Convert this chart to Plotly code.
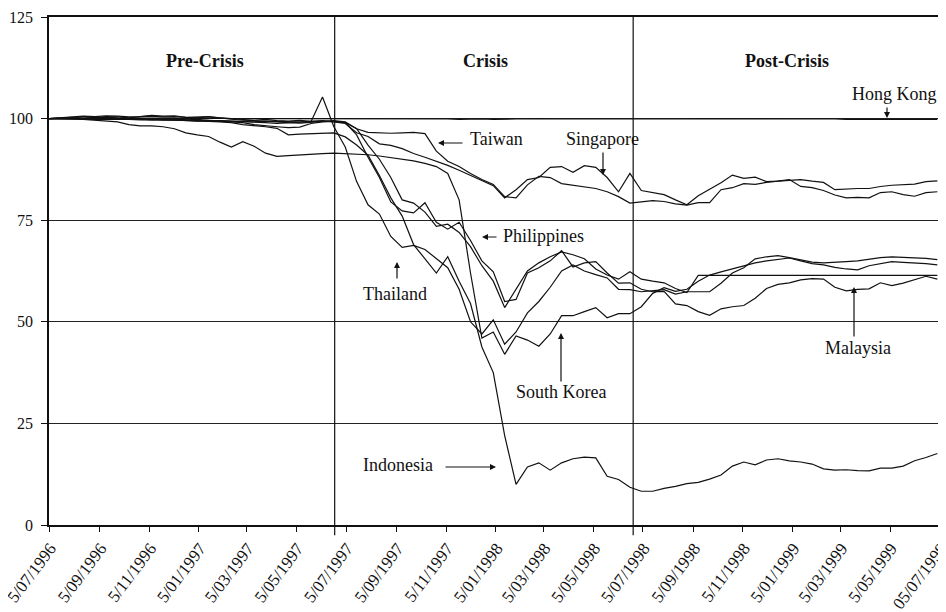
import pandas as pd
import plotly.graph_objects as go

# Fortnightly observation dates (5 July 1996 onward)
dates = pd.date_range("1996-07-05", periods=79, freq="14D")

hong_kong = [100.0, 100.1, 100.2, 100.1, 100.2, 100.3, 100.2, 100.2, 100.1, 100.1, 100.2, 100.1, 100.0, 100.1, 100.0, 100.1, 100.0, 99.9, 100.0, 100.0, 99.9, 100.0, 100.0, 99.9, 99.9,
             99.9, 100.0, 99.9, 100.0, 100.0, 99.9, 99.9, 100.0, 100.0, 99.9, 99.9, 99.8, 99.9, 99.9, 99.8, 99.9, 99.9, 99.9, 100.0, 99.9, 99.9, 99.9, 99.9, 99.9, 99.9, 99.9,
             99.9, 99.9, 99.8, 99.8, 99.9, 99.9, 100.0, 100.0, 100.0, 99.9, 99.9, 100.0, 100.0, 99.9, 99.9, 99.9, 99.9, 99.9, 99.9, 99.8, 99.8, 99.9, 99.9, 99.9, 99.8, 99.8, 99.8, 99.8]

singapore = [100.0, 100.2, 100.4, 100.6, 100.5, 100.7, 100.6, 100.4, 100.5, 100.8, 100.6, 100.7, 100.3, 100.4, 100.5, 100.2, 100.0, 99.8, 99.6, 99.8, 99.5, 99.4, 99.6, 99.3, 99.5,
             99.2, 98.8, 96.5, 95.6, 93.8, 93.4, 92.6, 91.4, 90.5, 89.5, 88.5, 87.3, 86.0, 84.8, 83.5, 80.5, 82.5, 85.0, 85.5, 88.0, 88.2, 86.8, 88.4, 88.0, 85.5, 82.0,
             86.5, 82.3, 81.8, 81.3, 80.0, 78.8, 81.0, 82.5, 84.2, 86.1, 85.3, 85.6, 84.5, 84.6, 85.0, 83.3, 83.0, 82.3, 81.2, 80.5, 80.6, 80.5, 81.8, 82.0, 81.3, 80.9, 81.8, 82.0]

taiwan = [100.0, 100.0, 99.9, 99.9, 99.8, 99.8, 99.9, 99.8, 99.7, 99.8, 99.7, 99.6, 99.5, 99.5, 99.4, 99.5, 99.4, 99.3, 99.2, 99.4, 99.3, 99.3, 99.2, 99.3, 99.3,
          99.3, 99.0, 97.5, 96.6, 96.5, 96.4, 96.5, 96.6, 96.3, 92.0, 89.5, 88.2, 86.5, 85.0, 83.8, 80.8, 80.5, 83.7, 85.8, 85.5, 84.0, 83.6, 83.3, 82.8, 82.0, 80.8,
          79.2, 79.5, 79.8, 79.6, 79.0, 78.7, 79.3, 79.3, 82.5, 83.0, 84.0, 83.8, 84.3, 84.6, 84.8, 85.0, 84.6, 84.3, 82.5, 82.7, 82.8, 82.8, 83.3, 83.6, 83.7, 83.9, 84.5, 84.7]

south_korea = [100.0, 100.0, 99.9, 99.8, 99.6, 99.4, 99.2, 98.5, 98.2, 98.2, 98.0, 97.5, 96.5, 96.0, 95.6, 94.2, 93.0, 94.3, 93.2, 91.5, 90.7, 90.9, 91.1, 91.2, 91.4, 91.5,
               91.4, 91.3, 91.1, 90.8, 90.4, 90.0, 89.6, 89.0, 88.2, 86.5, 80.0, 62.0, 46.0, 47.5, 42.0, 46.5, 45.5, 44.0, 47.0, 51.5, 51.5, 52.5, 53.5, 51.0, 52.0,
               52.0, 53.7, 57.0, 58.4, 57.5, 58.0, 60.0, 61.5, 62.3, 63.0, 63.8, 64.5, 65.0, 65.4, 65.7, 65.0, 64.3, 64.0, 63.4, 63.0, 62.8, 63.8, 64.3, 64.8, 64.6, 64.5, 64.3, 64.0]

thailand = [100.0, 100.0, 99.9, 100.0, 100.0, 99.9, 99.8, 99.9, 99.8, 99.7, 99.8, 99.9, 99.7, 99.8, 99.6, 99.5, 99.4, 99.3, 99.2, 99.0, 98.8, 98.9, 99.1, 99.3, 105.3, 98.0,
            93.0, 84.5, 78.8, 76.5, 71.0, 68.3, 68.8, 67.8, 65.5, 63.3, 58.0, 50.0, 47.0, 50.5, 44.5, 47.5, 52.2, 55.0, 58.5, 62.5, 64.0, 62.5, 61.6, 60.8, 58.0,
            57.9, 57.4, 57.6, 57.9, 56.8, 57.4, 57.4, 57.4, 59.5, 62.0, 63.3, 65.5, 66.0, 66.3, 65.8, 65.2, 64.7, 64.5, 64.6, 64.8, 65.0, 65.4, 65.8, 66.0, 65.9, 65.8, 65.6, 65.3]

philippines = [100.0, 100.0, 100.1, 100.0, 99.9, 100.0, 99.9, 100.0, 99.8, 99.7, 99.6, 99.7, 99.6, 99.4, 99.5, 99.3, 99.2, 99.0, 98.5, 98.2, 98.0, 97.8, 97.9, 98.8, 99.2, 99.3,
               99.0, 96.0, 90.5, 85.5, 79.5, 77.3, 76.8, 79.3, 74.5, 72.8, 74.5, 70.0, 65.0, 62.3, 55.0, 55.5, 62.0, 63.3, 65.0, 67.5, 63.5, 64.5, 64.8, 62.0, 59.5,
               59.6, 58.0, 57.4, 57.5, 54.4, 54.0, 52.5, 51.6, 53.2, 53.7, 54.0, 55.8, 58.2, 59.2, 59.6, 60.3, 60.6, 60.5, 58.5, 57.6, 58.0, 58.1, 59.6, 58.9, 59.5, 60.4, 61.2, 60.5]

malaysia = [100.0, 100.2, 100.3, 100.1, 100.3, 100.5, 100.4, 100.2, 100.5, 100.6, 100.4, 100.5, 100.3, 100.2, 100.4, 100.1, 99.9, 99.6, 99.5, 99.3, 99.1, 99.0, 98.9, 99.1, 99.3, 99.5,
            99.2, 97.5, 93.5, 90.0, 85.5, 80.0, 79.2, 77.0, 73.5, 74.0, 72.0, 68.5, 63.8, 60.0, 53.5, 58.0, 62.5, 64.5, 66.0, 67.2, 66.5, 65.5, 63.0, 61.5, 60.5,
            62.3, 60.5, 60.0, 59.6, 58.2, 57.2, 61.4, 61.4, 61.4, 61.4, 61.4, 61.4, 61.4, 61.4, 61.4, 61.4, 61.4, 61.4, 61.4, 61.4, 61.4, 61.4, 61.4, 61.4, 61.4, 61.4, 61.4, 61.4]

indonesia = [100.0, 100.1, 100.0, 99.9, 100.1, 100.2, 100.0, 99.9, 99.8, 99.9, 100.0, 99.8, 99.6, 99.5, 99.3, 99.2, 99.0, 98.5, 98.3, 98.0, 97.6, 96.0, 96.2, 96.3, 96.4, 96.5,
             95.5, 93.5, 91.0, 86.0, 80.5, 76.0, 69.0, 65.5, 62.0, 66.0, 60.0, 54.5, 43.8, 37.5, 22.0, 10.0, 14.3, 15.3, 13.5, 15.3, 16.3, 16.7, 16.5, 12.0, 11.2,
             9.3, 8.3, 8.3, 9.0, 9.5, 10.2, 10.5, 11.3, 12.3, 14.5, 15.5, 14.8, 16.0, 16.3, 15.8, 15.5, 15.0, 13.8, 13.5, 13.6, 13.4, 13.3, 14.0, 14.0, 14.5, 15.8, 16.6, 17.6]

series = {
    "Hong Kong": hong_kong, "Singapore": singapore, "Taiwan": taiwan,
    "South Korea": south_korea, "Thailand": thailand, "Philippines": philippines,
    "Malaysia": malaysia, "Indonesia": indonesia,
}

tick_dates = ["1996-07-05", "1996-09-05", "1996-11-05", "1997-01-05", "1997-03-05", "1997-05-05",
              "1997-07-05", "1997-09-05", "1997-11-05", "1998-01-05", "1998-03-05", "1998-05-05",
              "1998-07-05", "1998-09-05", "1998-11-05", "1999-01-05", "1999-03-05", "1999-05-05",
              "1999-07-05"]
tick_labels = ["5/07/1996", "5/09/1996", "5/11/1996", "5/01/1997", "5/03/1997", "5/05/1997",
               "5/07/1997", "5/09/1997", "5/11/1997", "5/01/1998", "5/03/1998", "5/05/1998",
               "5/07/1998", "5/09/1998", "5/11/1998", "5/01/1999", "5/03/1999", "5/05/1999",
               "05/07/1999"]
y_ticks = [0, 25, 50, 75, 100, 125]
period_breaks = ["1997-06-21", "1998-06-23"]

FONT = "Liberation Serif, Times New Roman, serif"

fig = go.Figure()
for name, vals in series.items():
    fig.add_trace(go.Scatter(x=dates, y=vals, mode="lines", name=name,
                             line=dict(color="#111111", width=1.2)))

# plot area (page pixels): x 49..940, y 17..525 ; page has an 8px body margin
def px(x):
    return (x - 49) / 891.0

def py(y):
    return (525 - y) / 508.0

labels = [
    ("<b>Pre-Crisis</b>", 205, 61), ("<b>Crisis</b>", 485, 61), ("<b>Post-Crisis</b>", 787, 61),
    ("Hong Kong", 894, 94), ("Taiwan", 496, 139), ("Singapore", 602, 139),
    ("Philippines", 543, 236), ("Thailand", 395, 294), ("South Korea", 561, 392),
    ("Indonesia", 398, 465), ("Malaysia", 858, 348),
]
for txt, x, y in labels:
    fig.add_annotation(text=txt, x=px(x), y=py(y), xref="paper", yref="paper",
                       showarrow=False, xanchor="center", yanchor="middle",
                       font=dict(family=FONT, size=18, color="#111111"))

arrows = [
    ((887, 106), (887, 118)), ((464, 143), (438, 143)), ((603, 151), (603, 175)),
    ((498, 237), (482, 237)), ((397, 280), (397, 262)), ((561, 383), (561, 333)),
    ((444, 467), (496, 467)), ((854, 338), (854, 287)),
]
for (tx, ty), (hx, hy) in arrows:
    fig.add_annotation(text="", x=px(hx), y=py(hy), xref="paper", yref="paper",
                       ax=tx - hx, ay=ty - hy, showarrow=True, arrowhead=2,
                       arrowsize=1, arrowwidth=1.2, arrowcolor="#111111", standoff=0)

for d in period_breaks:
    fig.add_shape(type="line", x0=d, x1=d, xref="x", y0=-0.02, y1=1, yref="paper",
                  line=dict(color="#111111", width=1.2))

fig.update_layout(
    width=938, height=604,
    margin=dict(l=41, r=6, t=9, b=87, autoexpand=False),
    paper_bgcolor="white", plot_bgcolor="white",
    showlegend=False,
    font=dict(family=FONT, size=17, color="#111111"),
)
fig.update_xaxes(
    type="date", range=["1996-07-04 18:00", "1999-07-05 06:00"], automargin=False,
    tickmode="array", tickvals=tick_dates, ticktext=tick_labels, tickangle=-53,
    ticklabeloverflow="allow", ticklabelshift=1,
    showgrid=False, zeroline=False,
    showline=True, linecolor="#111111", linewidth=1.5, mirror=True,
    ticks="outside", ticklen=5, tickcolor="#111111", tickwidth=1.2,
    tickfont=dict(family=FONT, size=17, color="#111111"),
)
fig.update_yaxes(
    range=[0, 125], tickmode="array", tickvals=y_ticks, automargin=False,
    ticklabeloverflow="allow",
    showgrid=True, gridcolor="#222222", gridwidth=1, zeroline=False,
    showline=True, linecolor="#111111", linewidth=1.5, mirror=True,
    ticks="outside", ticklen=6, tickcolor="#111111", tickwidth=1.2,
    ticklabelstandoff=5,
    tickfont=dict(family=FONT, size=16, color="#111111"),
)

fig.write_html("out.html")
